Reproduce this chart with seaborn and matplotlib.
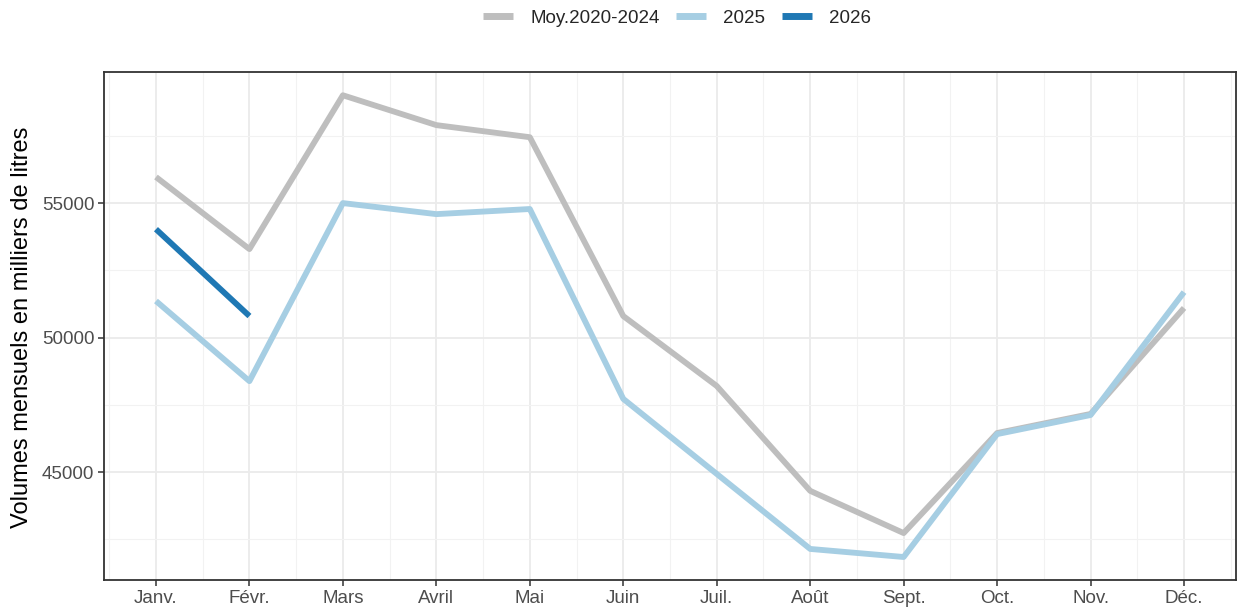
import numpy as np
import pandas as pd
import matplotlib
matplotlib.use("Agg")
import matplotlib.pyplot as plt
import seaborn as sns
from matplotlib.ticker import MultipleLocator

months = ["Janv.", "Févr.", "Mars", "Avril", "Mai", "Juin", "Juil.", "Août", "Sept.", "Oct.", "Nov.", "Déc."]
moy_2020_2024 = [55970, 53290, 59010, 57900, 57450, 50800, 48200, 44300, 42730, 46450, 47160, 51100]
y2025 = [51360, 48380, 55000, 54590, 54780, 47720, 44930, 42140, 41840, 46410, 47120, 51690]
y2026 = [54030, 50800]
series_names = ["Moy.2020-2024", "2025", "2026"]
colors = ["#BEBEBE", "#A6CEE3", "#1F78B4"]

rows = []
for name, vals in zip(series_names, [moy_2020_2024, y2025, y2026]):
    for i, v in enumerate(vals):
        rows.append({"mois": i + 1, "valeur": v, "serie": name})
df = pd.DataFrame(rows)

sns.set_theme(style="white")
plt.rcParams["font.family"] = ["Liberation Sans", "DejaVu Sans"]

fig = plt.figure(figsize=(12.38, 6.13), dpi=100)
ax = fig.add_axes([104/1238, 1-580/613, (1236-104)/1238, (580-72)/613])

sns.lineplot(data=df, x="mois", y="valeur", hue="serie", hue_order=series_names,
             palette=colors, linewidth=4.2, ax=ax, legend=True,
             solid_capstyle="butt", solid_joinstyle="round")

ax.set_xlim(0.444, 12.556)
ax.set_ylim(40985, 59875)
ax.set_xticks(range(1, 13))
ax.set_xticklabels(months)
ax.set_yticks([45000, 50000, 55000])
ax.xaxis.set_minor_locator(MultipleLocator(0.5))
ax.set_yticks([42500, 47500, 52500, 57500], minor=True)
ax.grid(True, which="major", color="#EBEBEB", linewidth=1.3, zorder=0)
ax.grid(True, which="minor", color="#F2F2F2", linewidth=0.8, zorder=0)
ax.set_axisbelow(True)
for s in ax.spines.values():
    s.set_color("#333333")
    s.set_linewidth(1.3)
ax.tick_params(axis="both", which="major", length=4, width=1.1, color="#333333",
               labelcolor="#4D4D4D", labelsize=13.5, bottom=True, left=True, pad=3)
ax.tick_params(axis="both", which="minor", length=0)
ax.set_xlabel("")
ax.set_ylabel("Volumes mensuels en milliers de litres", fontsize=17, color="black")
ax.yaxis.set_label_coords(33/1238, 1 - 327/613, transform=fig.transFigure)

handles, labels = ax.get_legend_handles_labels()
for h in handles:
    h.set_linewidth(5.0)
    h.set_solid_capstyle("butt")
leg = ax.legend(handles, labels, loc="center", bbox_to_anchor=(677/1238, 1 - 18/613),
                bbox_transform=fig.transFigure, ncol=3, frameon=False, fontsize=13.5,
                handlelength=1.6, columnspacing=0.9, handletextpad=0.9)

fig.savefig("out.png", dpi=100)
